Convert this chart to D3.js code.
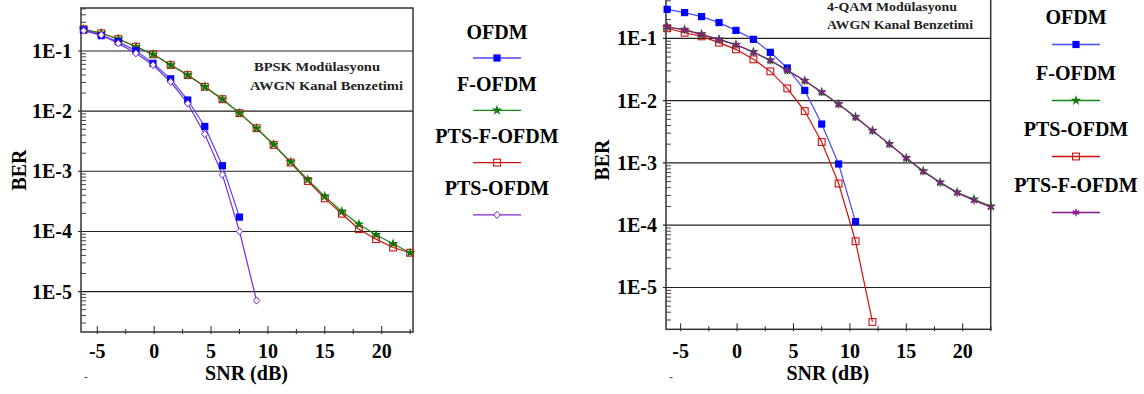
<!DOCTYPE html>
<html>
<head>
<meta charset="utf-8">
<script src="https://cdn.jsdelivr.net/npm/d3@7"></script>
<style>
  body { margin: 0; background: #fff; }
  svg text { font-family: 'Liberation Serif', 'DejaVu Serif', serif; font-weight: 700; }
</style>
</head>
<body>
<svg id="chart" width="1144" height="394"></svg>
<script>
// SNR (dB) points, shared by both panels
var snr = [-6.2, -4.65, -3.15, -1.6, -0.1, 1.45, 2.95, 4.45, 6, 7.5, 9, 10.5, 12, 13.5, 15, 16.5, 18, 19.5, 21, 22.5];

// BPSK panel
var bpskOfdm = [0.224, 0.18, 0.143, 0.101, 0.0624, 0.0345, 0.0153, 0.00556, 0.00124, 1.73e-4];
var bpskFOfdm = [0.230, 0.197, 0.158, 0.118, 0.088, 0.0584, 0.0398, 0.0254, 0.0158, 0.00926, 0.00521, 0.00279, 0.00143, 7.27e-4, 3.83e-4, 2.15e-4, 1.32e-4, 8.8e-5, 6.24e-5, 4.42e-5];
var bpskPtsFOfdm = [0.230, 0.197, 0.158, 0.118, 0.088, 0.0584, 0.0398, 0.0254, 0.0158, 0.00926, 0.00521, 0.00275, 0.0014, 6.9e-4, 3.55e-4, 1.97e-4, 1.09e-4, 7.44e-5, 5.41e-5, 4.42e-5];
var bpskPtsOfdm = [0.218, 0.185, 0.134, 0.0916, 0.0584, 0.0308, 0.0134, 0.00414, 8.8e-4, 1.0e-4, 7.1e-6];

// 4-QAM panel
var qamOfdm = [0.292, 0.259, 0.223, 0.179, 0.134, 0.0964, 0.0596, 0.0334, 0.0146, 0.0042, 9.6e-4, 1.14e-4];
var qamFOfdm = [0.152, 0.138, 0.116, 0.0964, 0.0793, 0.0603, 0.0444, 0.0306, 0.0209, 0.0137, 0.0088, 0.00546, 0.0033, 0.00201, 0.0012, 7.4e-4, 4.89e-4, 3.38e-4, 2.6e-4, 2.01e-4];
var qamPtsOfdm = [0.145, 0.123, 0.1075, 0.0853, 0.0666, 0.046, 0.0295, 0.0157, 0.0068, 0.00216, 4.66e-4, 5.52e-5, 2.79e-6];
var qamPtsFOfdm = [0.152, 0.137, 0.115, 0.0955, 0.079, 0.06, 0.0442, 0.0305, 0.0208, 0.0136, 0.0087, 0.0054, 0.00327, 0.002, 0.00119, 7.3e-4, 4.8e-4, 3.3e-4, 2.5e-4, 1.95e-4];

var xTicks = [-5, 0, 5, 10, 15, 20];
var yTicks = [1e-1, 1e-2, 1e-3, 1e-4, 1e-5];
var yTickLabels = ["1E-1", "1E-2", "1E-3", "1E-4", "1E-5"];

const svg = d3.select("#chart");
const FONT = "'Liberation Serif', 'DejaVu Serif', serif";

// asterisk marker (three crossing strokes)
function asterisk(r) {
  var p = "";
  for (var i = 0; i < 3; i++) {
    var a = Math.PI / 2 + i * Math.PI / 3;
    var dx = r * Math.cos(a), dy = r * Math.sin(a);
    p += "M" + (-dx) + "," + (-dy) + "L" + dx + "," + dy;
  }
  return p;
}

function marker(g, kind, color) {
  if (kind == "square") {
    g.append("rect").attr("x", -3.6).attr("y", -3.6).attr("width", 7.2).attr("height", 7.2).attr("fill", color);
  } else if (kind == "osquare") {
    g.append("rect").attr("x", -3.4).attr("y", -3.4).attr("width", 6.8).attr("height", 6.8)
      .attr("fill", "none").attr("stroke", color).attr("stroke-width", 1.1);
  } else if (kind == "star") {
    g.append("path").attr("d", d3.symbol().type(d3.symbolStar).size(34)()).attr("fill", color);
  } else if (kind == "diamond") {
    g.append("path").attr("d", "M0,-3.6L3.2,0L0,3.6L-3.2,0Z").attr("fill", "#fff").attr("stroke", color).attr("stroke-width", 1);
  } else if (kind == "asterisk") {
    g.append("path").attr("d", asterisk(3.8)).attr("stroke", color).attr("stroke-width", 1.4);
  }
}

function txt(g) {
  return g.append("text").attr("font-family", FONT).attr("font-weight", "bold");
}

function drawPanel(o) {
  const g = svg.append("g");
  const x = d3.scaleLinear().domain(o.xDomain).range([o.left, o.right]);
  const y = d3.scaleLog().domain([Math.pow(10, -5.672), Math.pow(10, -0.285)]).range([o.bottom, o.top]);

  // decade grid lines
  g.selectAll(".grid").data(yTicks).enter().append("line")
    .attr("x1", o.left - 3).attr("x2", o.right)
    .attr("y1", d => y(d)).attr("y2", d => y(d))
    .attr("stroke", "#222").attr("stroke-width", 1.1);

  // minor log ticks
  var minor = [];
  for (var e = -6; e <= -1; e++) {
    for (var k = 2; k <= 9; k++) {
      var v = k * Math.pow(10, e);
      if (v > y.domain()[0] && v < y.domain()[1]) minor.push(v);
    }
  }
  g.selectAll(".minor").data(minor).enter().append("line")
    .attr("x1", o.left).attr("x2", o.left + 5)
    .attr("y1", d => y(d)).attr("y2", d => y(d))
    .attr("stroke", "#444").attr("stroke-width", 1);

  // x ticks
  var xMinor = [-2.5, 2.5, 7.5, 12.5, 17.5, 22.5];
  g.selectAll(".xt").data(xTicks).enter().append("line")
    .attr("x1", d => x(d)).attr("x2", d => x(d))
    .attr("y1", o.bottom - 6).attr("y2", o.bottom + 2)
    .attr("stroke", "#222").attr("stroke-width", 1);
  g.selectAll(".xm").data(xMinor).enter().append("line")
    .attr("x1", d => x(d)).attr("x2", d => x(d))
    .attr("y1", o.bottom - 3).attr("y2", o.bottom + 2)
    .attr("stroke", "#222").attr("stroke-width", 1);

  // frame
  g.append("rect").attr("x", o.left).attr("y", o.top).attr("width", o.right - o.left).attr("height", o.bottom - o.top)
    .attr("fill", "none").attr("stroke", "#333").attr("stroke-width", 1.5);

  // tick labels
  yTicks.forEach(function(d, i) {
    txt(g).attr("x", o.left - 9).attr("y", y(d)).attr("dy", "0.35em")
      .attr("text-anchor", "end").attr("font-size", 20).text(yTickLabels[i]);
  });
  xTicks.forEach(function(d) {
    txt(g).attr("x", x(d)).attr("y", 358).attr("text-anchor", "middle").attr("font-size", 20).text(d);
  });

  txt(g).attr("x", (o.left + o.right) / 2 - 0.5).attr("y", 380).attr("text-anchor", "middle").attr("font-size", 20).text("SNR (dB)");
  txt(g).attr("transform", "translate(" + o.berX + "," + o.berY + ") rotate(-90)")
    .attr("dy", "0.35em").attr("text-anchor", "middle").attr("font-size", 20).text("BER");
  txt(g).attr("x", o.left + 3).attr("y", 381).attr("font-size", 12).attr("font-weight", "normal").attr("fill", "#555").text("-");

  // annotation
  o.notes.forEach(function(n) {
    txt(g).attr("x", n.x).attr("y", n.y).attr("dy", "0.35em").attr("font-size", 13)
      .attr("textLength", n.w).attr("lengthAdjust", "spacingAndGlyphs").attr("fill", "#222").text(n.text);
  });

  // series
  const line = d3.line().x((d, i) => x(snr[i])).y(d => y(d));
  o.series.forEach(function(s) {
    g.append("path").attr("d", line(s.values)).attr("fill", "none").attr("stroke", s.line).attr("stroke-width", 1.2);
  });
  o.series.forEach(function(s) {
    s.values.forEach(function(v, i) {
      marker(g.append("g").attr("transform", "translate(" + x(snr[i]) + "," + y(v) + ")"), s.marker, s.color);
    });
  });

  // legend
  o.legendOrder.forEach(function(s, i) {
    var cy = o.legendY + i * o.legendStep;
    txt(g).attr("x", o.legendX).attr("y", cy).attr("dy", "0.35em").attr("text-anchor", "middle")
      .attr("font-size", 20).text(s.name);
    var ly = cy + o.legendGap;
    g.append("line").attr("x1", o.legendX - 24).attr("x2", o.legendX + 24).attr("y1", ly).attr("y2", ly)
      .attr("stroke", s.line).attr("stroke-width", 1.3);
    marker(g.append("g").attr("transform", "translate(" + o.legendX + "," + ly + ")"), s.marker, s.color);
  });
}

var sOfdmL = {name: "OFDM", values: bpskOfdm, line: "#4848ff", color: "#0000ff", marker: "square"};
var sFL = {name: "F-OFDM", values: bpskFOfdm, line: "#138a13", color: "#0a7a0a", marker: "star"};
var sPtsFL = {name: "PTS-F-OFDM", values: bpskPtsFOfdm, line: "#d01010", color: "#d01010", marker: "osquare"};
var sPtsL = {name: "PTS-OFDM", values: bpskPtsOfdm, line: "#7a2ad6", color: "#7a20c8", marker: "diamond"};

drawPanel({
  left: 81, right: 413, top: 8, bottom: 332, xDomain: [-6.43, 22.75],
  berX: 19, berY: 170,
  notes: [{text: "BPSK Modülasyonu", x: 254, y: 66, w: 126}, {text: "AWGN Kanal Benzetimi", x: 250, y: 85, w: 153}],
  series: [sPtsFL, sFL, sOfdmL, sPtsL],
  legendOrder: [sOfdmL, sFL, sPtsFL, sPtsL],
  legendX: 497, legendY: 31.5, legendStep: 52.3, legendGap: 26.5
});

var sOfdmR = {name: "OFDM", values: qamOfdm, line: "#4848ff", color: "#0000ff", marker: "square"};
var sFR = {name: "F-OFDM", values: qamFOfdm, line: "#138a13", color: "#0a7a0a", marker: "star"};
var sPtsR = {name: "PTS-OFDM", values: qamPtsOfdm, line: "#d01010", color: "#d01010", marker: "osquare"};
var sPtsFR = {name: "PTS-F-OFDM", values: qamPtsFOfdm, line: "#8a1a8a", color: "#8a1a8a", marker: "asterisk"};

drawPanel({
  left: 666, right: 990.7, top: -6.2, bottom: 329.3, xDomain: [-6.3, 22.48],
  berX: 602, berY: 160,
  notes: [{text: "4-QAM Modülasyonu", x: 827, y: 6.5, w: 130}, {text: "AWGN Kanal Benzetimi", x: 827, y: 24, w: 146}],
  series: [sPtsR, sOfdmR, sFR, sPtsFR],
  legendOrder: [sOfdmR, sFR, sPtsR, sPtsFR],
  legendX: 1076, legendY: 17, legendStep: 56, legendGap: 27.5
});
</script>
</body>
</html>
